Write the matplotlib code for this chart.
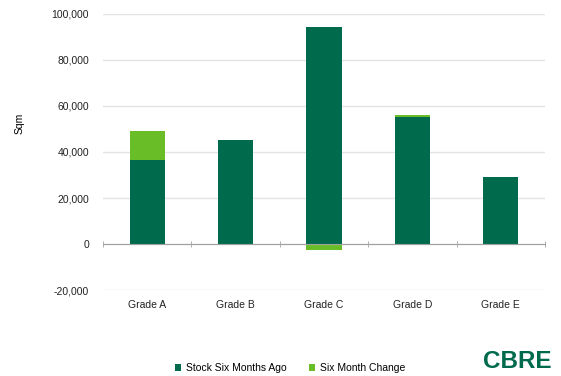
import matplotlib.pyplot as plt
import numpy as np

plt.rcParams['font.family'] = ['Liberation Sans', 'DejaVu Sans']

grades = ['Grade A', 'Grade B', 'Grade C', 'Grade D', 'Grade E']
stock = [36600, 45200, 94200, 55400, 29300]
change = [12600, 0, -2800, 600, 0]

dark = '#006A4D'
light = '#69BE28'

fig = plt.figure(figsize=(5.61, 3.76), dpi=100)
ax = fig.add_axes([0.1836, 0.2287, 0.7879, 0.7341])

x = np.arange(len(grades))
ax.bar(x, stock, width=0.4, color=dark, label='Stock Six Months Ago', zorder=3)
# positive change sits on top of stock, negative change hangs below zero
base = [s if c >= 0 else 0 for s, c in zip(stock, change)]
ax.bar(x, change, width=0.4, bottom=base, color=light, label='Six Month Change', zorder=3)

ax.set_xlim(-0.5, len(grades) - 0.5)
ax.set_ylim(-20000, 100000)
ax.set_yticks(np.arange(-20000, 100001, 20000))
ax.yaxis.set_major_formatter(plt.FuncFormatter(lambda v, p: f'{int(v):,}'))
ax.grid(axis='y', color='#e3e3e3', linewidth=1, zorder=0)

for s in ['top', 'right', 'left']:
    ax.spines[s].set_visible(False)
ax.spines['bottom'].set_position(('data', 0))
ax.spines['bottom'].set_color('#a0a0a0')
ax.spines['bottom'].set_zorder(4)

ax.set_xticks(x)
ax.set_xticklabels(grades)
ax.set_xticks(np.arange(-0.5, len(grades)), minor=True)
ax.tick_params(axis='x', which='major', length=0, pad=40, labelsize=7.5, colors='#222222')
ax.tick_params(axis='x', which='minor', length=5, direction='inout', color='#a0a0a0')
ax.tick_params(axis='y', length=0, pad=10, labelsize=7.5, colors='#222222')
ax.set_ylabel('Sqm', fontsize=7.5)
ax.yaxis.set_label_coords(-0.178, 0.605)

fig.legend(loc='center', bbox_to_anchor=(290 / 561, 1 - 368 / 376), ncol=2,
           frameon=False, fontsize=7.5, handlelength=0.6, handleheight=0.6,
           handletextpad=0.4, columnspacing=2.2)

fig.text(0.984, 1 - 361 / 376, 'CBRE', color=dark, fontsize=17.5, fontweight='bold',
         ha='right', va='center')

fig.savefig('out.png', dpi=100)
